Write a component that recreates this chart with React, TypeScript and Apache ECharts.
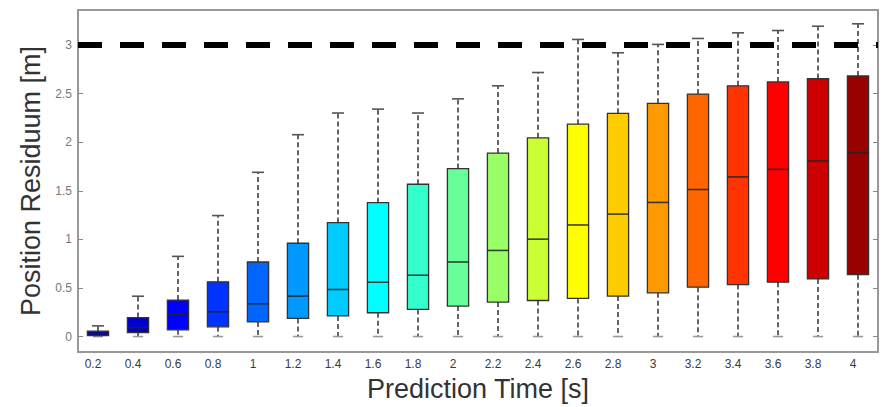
import React, { useEffect, useRef } from "react";
import * as echarts from "echarts";

const categories = ["0.2", "0.4", "0.6", "0.8", "1", "1.2", "1.4", "1.6", "1.8", "2", "2.2", "2.4", "2.6", "2.8", "3", "3.2", "3.4", "3.6", "3.8", "4"];
const whiskerLow = [0, 0, 0, 0, 0, 0, 0, 0, 0, 0, 0, 0, 0, 0, 0, 0, 0, 0, 0, 0];
const q1 = [0.01, 0.04, 0.07, 0.1, 0.15, 0.186, 0.212, 0.245, 0.279, 0.314, 0.355, 0.371, 0.392, 0.416, 0.45, 0.508, 0.535, 0.559, 0.593, 0.637];
const median = [0.03, 0.09, 0.23, 0.255, 0.337, 0.416, 0.484, 0.559, 0.631, 0.767, 0.886, 1.002, 1.148, 1.26, 1.38, 1.513, 1.643, 1.72, 1.807, 1.892];
const q3 = [0.055, 0.195, 0.375, 0.563, 0.767, 0.96, 1.173, 1.377, 1.567, 1.728, 1.888, 2.045, 2.185, 2.297, 2.4, 2.495, 2.58, 2.62, 2.654, 2.682];
const whiskerHigh = [0.11, 0.415, 0.825, 1.245, 1.69, 2.077, 2.3, 2.34, 2.3, 2.446, 2.58, 2.717, 3.057, 2.92, 3.006, 3.067, 3.125, 3.149, 3.193, 3.218];
const yTicks = [0, 0.5, 1, 1.5, 2, 2.5, 3];
const threshold = 3;

const jetColors = ["#000099", "#0000CC", "#0000FF", "#0033FF", "#0066FF", "#0099FF", "#00CCFF", "#00FFFF", "#33FFCC", "#66FF99", "#99FF66", "#CCFF33", "#FFFF00", "#FFCC00", "#FF9900", "#FF6600", "#FF3300", "#FF0000", "#CC0000", "#990000"];

export default function App() {
  const ref = useRef<HTMLDivElement>(null);
  useEffect(() => {
    if (!ref.current) return;
    const chart = echarts.init(ref.current, null, { renderer: "svg" });
    const data = categories.map((_, i) => [i, whiskerLow[i], q1[i], median[i], q3[i], whiskerHigh[i]]);
    const font = "'Liberation Sans', Arial, sans-serif";
    chart.setOption({
      animation: false,
      backgroundColor: "#ffffff",
      grid: { left: 78, right: 9, top: 10, bottom: 52, show: true, borderColor: "#999999", borderWidth: 2, backgroundColor: "transparent" },
      xAxis: {
        type: "category",
        data: categories,
        boundaryGap: true,
        axisLine: { show: false },
        axisTick: { show: false },
        splitLine: { show: false },
        axisLabel: { color: "#3a3a3a", fontSize: 12, fontFamily: font, margin: 6, padding: [0, 10, 0, 0] },
        name: "Prediction Time [s]",
        nameLocation: "middle",
        nameGap: 22,
        nameTextStyle: { fontSize: 27, color: "#333", fontFamily: font },
      },
      yAxis: [
        {
          type: "value",
          min: -0.16,
          max: 3.36,
          axisLine: { show: false },
          splitLine: { show: false },
          axisTick: { show: true, inside: true, length: 5, lineStyle: { color: "#888" }, customValues: yTicks },
          axisLabel: { color: "#777", fontSize: 12, fontFamily: font, margin: 6, customValues: yTicks },
          name: "Position Residuum [m]",
          nameLocation: "middle",
          nameGap: 30,
          nameTextStyle: { fontSize: 27, color: "#333", fontFamily: font },
        },
        {
          type: "value",
          position: "right",
          min: -0.16,
          max: 3.36,
          axisLine: { show: false },
          splitLine: { show: false },
          axisTick: { show: true, inside: true, length: 5, lineStyle: { color: "#888" }, customValues: yTicks },
          axisLabel: { show: false, customValues: yTicks },
        },
      ],
      series: [
        {
          type: "custom",
          data,
          renderItem: (params: any, api: any) => {
            const idx = api.value(0);
            const lo = api.coord([idx, api.value(1)]);
            const b1 = api.coord([idx, api.value(2)]);
            const md = api.coord([idx, api.value(3)]);
            const b3 = api.coord([idx, api.value(4)]);
            const hi = api.coord([idx, api.value(5)]);
            const band = api.size([1, 0])[0];
            const bw = band * 0.53;
            const x = lo[0];
            const capHi = 12;
            const capLo = 10;
            const whiskerStyle = { stroke: "#555", lineWidth: 1.8, lineDash: [5, 3] };
            return {
              type: "group",
              children: [
                { type: "line", shape: { x1: x, y1: b3[1], x2: x, y2: hi[1] }, style: whiskerStyle },
                { type: "line", shape: { x1: x, y1: b1[1], x2: x, y2: lo[1] }, style: whiskerStyle },
                { type: "line", shape: { x1: x - capHi / 2, y1: hi[1], x2: x + capHi / 2, y2: hi[1] }, style: { stroke: "#555", lineWidth: 1.6 } },
                { type: "line", shape: { x1: x - capLo / 2, y1: lo[1], x2: x + capLo / 2, y2: lo[1] }, style: { stroke: "#9a9a9a", lineWidth: 1.6 } },
                { type: "rect", shape: { x: x - bw / 2, y: b3[1], width: bw, height: b1[1] - b3[1] }, style: { fill: jetColors[idx], stroke: "#333", lineWidth: 1.3 } },
                { type: "line", shape: { x1: x - bw / 2, y1: md[1], x2: x + bw / 2, y2: md[1] }, style: { stroke: "#222", lineWidth: 1.6, opacity: 0.85 } },
              ],
            };
          },
          markLine: {
            silent: true,
            symbol: "none",
            label: { show: false },
            lineStyle: { color: "#000", width: 6, type: [24, 18] },
            data: [{ yAxis: threshold }],
          },
          z: 2,
        },
      ],
    });
    return () => chart.dispose();
  }, []);
  return <div ref={ref} style={{ position: "fixed", left: 0, top: 0, width: 887, height: 407 }} />;
}
